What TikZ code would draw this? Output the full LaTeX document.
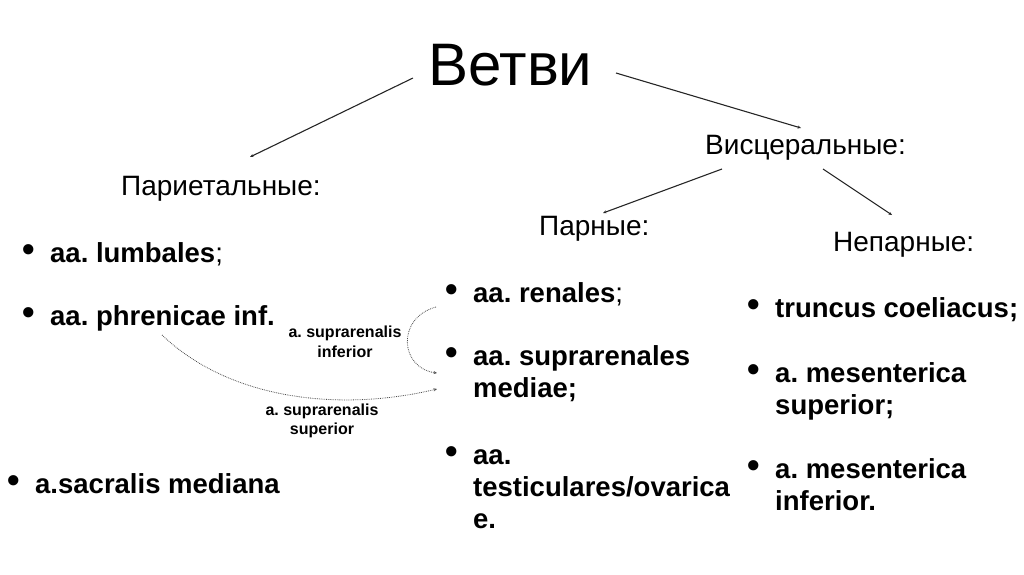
\documentclass[tikz,border=0pt]{standalone}
\usepackage{fontspec}
\setmainfont{Liberation Sans}
\usepackage{graphicx}
\usepackage{tikz}
\usetikzlibrary{arrows.meta}
\frenchspacing
\tikzset{
  bigtitle/.style={font=\fontsize{60}{62}\selectfont,inner sep=0pt,anchor=base west},
  branch/.style={font=\fontsize{28}{30}\selectfont,inner sep=0pt,anchor=base west},
  artery/.style={font=\bfseries\fontsize{27.5}{32}\selectfont,align=left,
    inner sep=0pt,anchor=base west},
  note/.style={font=\bfseries\fontsize{16}{19.5}\selectfont,align=center,inner sep=0pt},
  arr/.style={-{Stealth[length=3.5pt,width=3pt]},line width=1.1pt,draw=black!85},
  darr/.style={-{Stealth[length=3.5pt,width=3pt]},line width=0.8pt,densely dotted,
    draw=black!70}
}
\newcommand{\itm}{\llap{\raisebox{1pt}{\scalebox{1.3}{\textbullet}}\hspace{15pt}}}
\begin{document}
\begin{tikzpicture}[x=1pt,y=-1pt]
\useasboundingbox (0,0) rectangle (1024,574);
% ---------- headings ----------
\node[bigtitle] (vetvi) at (428,85) {Ветви};
\node[branch] (pariet) at (121,195) {Париетальные:};
\node[branch] (visc) at (705,154) {Висцеральные:};
\node[branch] (parn) at (539,235) {Парные:};
\node[branch] (neparn) at (833,251) {Непарные:};
% ---------- parietal (base = last line) ----------
\node[artery] (lumb) at (50,262) {\itm aa. lumbales{\mdseries;}};
\node[artery] (phren) at (50,325) {\itm aa. phrenicae inf.};
\node[artery] (sacr) at (35,493) {\itm a.sacralis mediana};
% ---------- paired ----------
\node[artery] (renal) at (473,302) {\itm aa. renales{\mdseries;}};
\node[artery] (supra) at (473,397) {\itm aa. suprarenales\\mediae;};
\node[artery] (testic) at (473,528) {\itm aa.\\testiculares/ovarica\\e.};
% ---------- unpaired ----------
\node[artery] (trunc) at (775,317) {\itm truncus coeliacus;};
\node[artery] (mesup) at (775,414) {\itm a. mesenterica\\superior;};
\node[artery] (mesinf) at (775,510) {\itm a. mesenterica\\inferior.};
% ---------- adrenal notes ----------
\node[note] (inflab) at (345,342) {a. suprarenalis\\inferior};
\node[note] (suplab) at (322,421) {a. suprarenalis\\superior};
% ---------- arrows ----------
\draw[arr] ([xshift=-15pt,yshift=7pt]vetvi.base west) -- ([xshift=129pt,yshift=38pt]pariet.base west);
\draw[arr] ([xshift=188pt,yshift=12pt]vetvi.base west) -- ([xshift=96pt,yshift=26pt]visc.base west);
\draw[arr] ([xshift=17pt,yshift=-15pt]visc.base west) -- ([xshift=64pt,yshift=22pt]parn.base west);
\draw[arr] ([xshift=118pt,yshift=-15pt]visc.base west) -- ([xshift=59pt,yshift=36pt]neparn.base west);
\draw[darr] ([xshift=-37pt,yshift=-5pt]renal.base west) .. controls +(-40,11) and +(-37,-5) .. ([xshift=-36pt,yshift=24pt]supra.base west);
\draw[darr] ([xshift=112pt,yshift=-10pt]phren.base west) .. controls +(68,65) and +(-97,23) .. ([xshift=-36pt,yshift=8pt]supra.base west);
\end{tikzpicture}
\end{document}
